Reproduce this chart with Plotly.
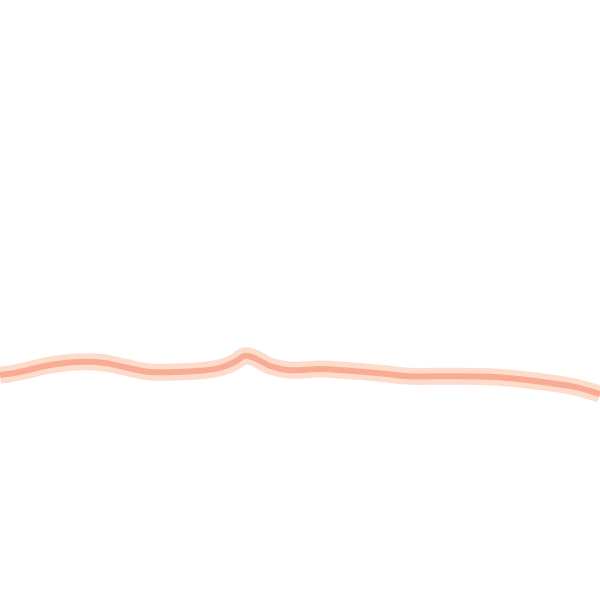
import plotly.graph_objects as go

# sampled points of the curve (x position 0..100, value)
x_pos = [0, 1.7, 4.2, 7.5, 10.8, 14.2, 17.5, 20.8, 25, 29.2, 33.3, 36.7, 39.2, 40.8,
         42.5, 45, 48.3, 53.3, 58.3, 63.3, 68.3, 75, 81.7, 86.7, 90.8, 94.2, 96.7, 100]
values = [37.5, 37.7, 38.2, 39.0, 39.5, 39.7, 39.5, 38.8, 38.0, 38.0, 38.2, 38.7, 39.7, 40.7,
          40.3, 39.0, 38.3, 38.5, 38.2, 37.8, 37.3, 37.3, 37.2, 36.8, 36.3, 35.8, 35.3, 34.3]

fig = go.Figure()

# soft halo around the line
fig.add_trace(go.Scatter(x=x_pos, y=values, mode="lines", line=dict(color="rgba(253,208,185,0.75)", width=17, shape="spline"),
                         hoverinfo="skip"))
# core line
fig.add_trace(go.Scatter(x=x_pos, y=values, mode="lines", line=dict(color="#f9ac94", width=6, shape="spline")))

fig.update_layout(
    width=600, height=600,
    margin=dict(l=0, r=0, t=0, b=0),
    paper_bgcolor="white", plot_bgcolor="white",
    showlegend=False,
    xaxis=dict(range=[0, 100], visible=False),
    yaxis=dict(range=[0, 100], visible=False),
)

# drop the default page margin so the figure sits flush in the window
fig.write_html("out.html", config={"displayModeBar": False},
               post_script="document.body.style.margin='0';")
